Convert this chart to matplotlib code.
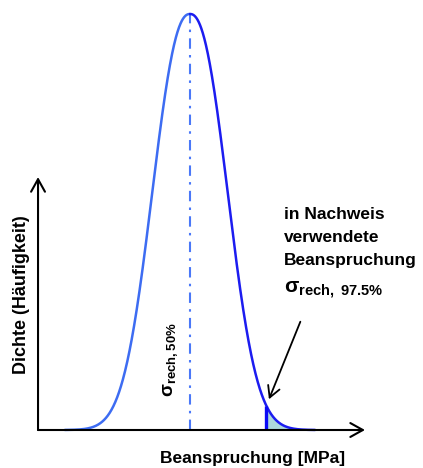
import math
import numpy as np
import matplotlib
matplotlib.use("Agg")
import matplotlib.pyplot as plt

# --- distribution of the computed stress (schematic, in MPa) ---
# generalized normal density: location, scale, shape
loc_mpa = 100.0
scale_mpa = 29.85
shape = 2.3
curve_range = [23.0, 177.0]
sigma_975 = 147.0          # stress value used in the verification

# --- labels ---
x_label = "Beanspruchung [MPa]"
y_label = "Dichte (Häufigkeit)"
note_lines = ["in Nachweis", "verwendete", "Beanspruchung"]
median_label = r"$\mathrm{σ_{rech,50\%}}$"
design_label = r"$\mathrm{σ_{rech,\ 97.5\%}}$"

# --- colours ---
c_left = "#3d6cf2"
c_right = "#1c1cf0"
c_median = "#4a78f8"
c_tail = "#acd9dc"
c_mark = "#0a0af5"

plt.rcParams["font.family"] = ["Liberation Sans", "DejaVu Sans"]
plt.rcParams["mathtext.fontset"] = "custom"
plt.rcParams["mathtext.rm"] = "Liberation Sans:bold"
plt.rcParams["mathtext.it"] = "Liberation Sans:bold:italic"
plt.rcParams["mathtext.bf"] = "Liberation Sans:bold"


def pdf(x):
    z = np.abs((np.asarray(x) - loc_mpa) / scale_mpa)
    norm = shape / (2 * scale_mpa * math.gamma(1 / shape))
    return norm * np.exp(-z ** shape)


peak = float(pdf(loc_mpa))

fig = plt.figure(figsize=(4.23, 4.68), dpi=100)
ax = fig.add_axes([0, 0, 1, 1])
ax.set_axis_off()
ax.set_xlim(-16.9, 243.4)
ax.set_ylim(-38 / 416 * peak, peak + 14 / 416 * peak)

# tail beyond the design value
xt = np.linspace(sigma_975, curve_range[1], 200)
ax.fill_between(xt, 0, pdf(xt), color=c_tail, lw=0, zorder=1)

# density curve, two shades of blue left/right of the peak
xl = np.linspace(curve_range[0], loc_mpa, 400)
xr = np.linspace(loc_mpa, curve_range[1], 400)
ax.plot(xl, pdf(xl), color=c_left, lw=1.8, solid_capstyle="round", zorder=3)
ax.plot(xr, pdf(xr), color=c_right, lw=1.8, solid_capstyle="round", zorder=3)

# median line
ax.plot([loc_mpa, loc_mpa], [0, peak], color=c_median, lw=1.5,
        linestyle=(0, (5, 3, 1.2, 3)), zorder=2)

# design value marker
ax.plot([sigma_975, sigma_975], [0, float(pdf(sigma_975))], color=c_mark,
        lw=2.4, solid_capstyle="butt", zorder=4)

# coordinate axes with open arrow heads
arrow = dict(arrowstyle="->,head_length=0.45,head_width=0.25", lw=1.5,
             color="black", mutation_scale=20, shrinkA=0, shrinkB=0)
x0 = 6.5
ax.annotate("", xy=(207.7, 0), xytext=(x0, 0), arrowprops=arrow, zorder=5)
ax.annotate("", xy=(x0, 0.608 * peak), xytext=(x0, 0), arrowprops=arrow, zorder=5)

# pointer to the design value
ax.annotate("", xy=(sigma_975, float(pdf(sigma_975))), xytext=(34, 84),
            textcoords="offset pixels",
            arrowprops=dict(arrowstyle="->,head_length=0.4,head_width=0.22",
                            lw=1.3, color="black", mutation_scale=20,
                            shrinkA=0, shrinkB=5), zorder=5)

# texts
ax.text(253 / 423, 1 - 459 / 468, x_label, transform=ax.transAxes,
        ha="center", va="center", fontsize=12.5, fontweight="bold")
ax.text(22 / 423, 1 - 295 / 468, y_label, transform=ax.transAxes,
        ha="center", va="center", rotation=90, fontsize=13, fontweight="bold")
ax.text(171 / 423, 1 - 397 / 468, median_label, transform=ax.transAxes,
        ha="center", va="bottom", rotation=90, fontsize=13.5)
ax.text(284 / 423, 1 - 207 / 468, "\n".join(note_lines), transform=ax.transAxes,
        ha="left", va="top", fontsize=12.5, fontweight="bold", linespacing=1.68)
ax.text(284 / 423, 1 - 293 / 468, design_label, transform=ax.transAxes,
        ha="left", va="baseline", fontsize=15)

fig.savefig("out.png", dpi=100)
